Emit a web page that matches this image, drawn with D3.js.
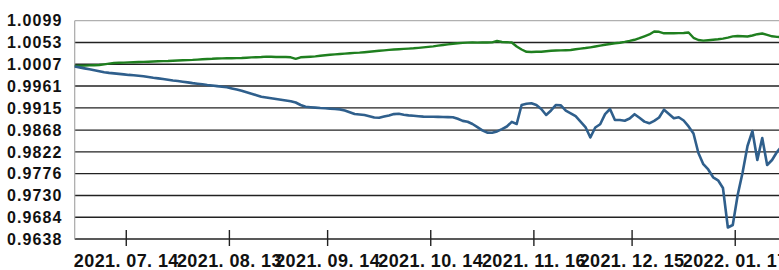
<!DOCTYPE html>
<html>
<head>
<meta charset="utf-8">
<script src="https://cdn.jsdelivr.net/npm/d3@7"></script>
<style>
  html, body { margin: 0; padding: 0; background: #fff; }
  svg { display: block; }
  text { font-family: "Liberation Sans", Arial, sans-serif; font-weight: bold; fill: #111; }
</style>
</head>
<body>
<div id="chart"></div>
<script>
// y tick labels (value axis)
const yTicks = [0.9638, 0.9684, 0.9730, 0.9776, 0.9822, 0.9868, 0.9915, 0.9961, 1.0007, 1.0053, 1.0099];
// x tick labels sit between trading-day points
const xTickLabels = ["2021. 07. 14", "2021. 08. 13", "2021. 09. 14", "2021. 10. 14", "2021. 11. 16", "2021. 12. 15", "2022. 01. 17"];
const xTickIdx = [10.5, 31.5, 51.5, 72.5, 93.5, 113.5, 134.5];

// green series (one value per trading day)
const greenSeries = [
  1.00033,1.00038,1.00042,1.00046,1.00050,1.00054,1.00069,1.00084,1.00097,1.00101,
  1.00105,1.00109,1.00114,1.00118,1.00120,1.00124,1.00128,1.00133,1.00137,1.00139,
  1.00145,1.00150,1.00154,1.00158,1.00162,1.00169,1.00175,1.00181,1.00185,1.00192,
  1.00194,1.00196,1.00198,1.00200,1.00202,1.00209,1.00215,1.00219,1.00223,1.00232,
  1.00228,1.00223,1.00223,1.00223,1.00217,1.00185,1.00217,1.00223,1.00230,1.00236,
  1.00249,1.00261,1.00270,1.00278,1.00287,1.00295,1.00302,1.00310,1.00316,1.00325,
  1.00335,1.00344,1.00354,1.00363,1.00373,1.00382,1.00388,1.00395,1.00401,1.00407,
  1.00416,1.00426,1.00437,1.00449,1.00464,1.00477,1.00490,1.00504,1.00515,1.00521,
  1.00528,1.00531,1.00527,1.00532,1.00529,1.00533,1.00561,1.00540,1.00534,1.00530,
  1.00445,1.00382,1.00333,1.00329,1.00335,1.00335,1.00346,1.00354,1.00361,1.00363,
  1.00367,1.00371,1.00386,1.00401,1.00413,1.00428,1.00445,1.00464,1.00481,1.00498,
  1.00513,1.00525,1.00542,1.00563,1.00587,1.00620,1.00661,1.00699,1.00762,1.00756,
  1.00724,1.00726,1.00726,1.00728,1.00730,1.00741,1.00629,1.00582,1.00570,1.00578,
  1.00587,1.00597,1.00612,1.00633,1.00658,1.00667,1.00663,1.00656,1.00677,1.00705,
  1.00720,1.00692,1.00661,1.00648,1.00642
];

// blue series
const blueSeries = [
  1.00023,1.00004,0.99983,0.99964,0.99943,0.99924,0.99902,0.99888,0.99877,0.99867,
  0.99856,0.99845,0.99837,0.99826,0.99816,0.99801,0.99784,0.99772,0.99757,0.99742,
  0.99727,0.99715,0.99700,0.99687,0.99672,0.99660,0.99647,0.99632,0.99622,0.99609,
  0.99596,0.99584,0.99560,0.99537,0.99510,0.99478,0.99448,0.99417,0.99385,0.99368,
  0.99353,0.99337,0.99322,0.99305,0.99290,0.99263,0.99210,0.99172,0.99163,0.99155,
  0.99146,0.99140,0.99132,0.99125,0.99117,0.99094,0.99056,0.99020,0.99009,0.98999,
  0.98973,0.98946,0.98939,0.98965,0.98990,0.99018,0.99024,0.99003,0.98990,0.98982,
  0.98973,0.98965,0.98963,0.98961,0.98958,0.98956,0.98954,0.98952,0.98918,0.98874,
  0.98857,0.98809,0.98743,0.98675,0.98627,0.98625,0.98652,0.98701,0.98756,0.98853,
  0.98809,0.99210,0.99237,0.99246,0.99212,0.99125,0.98999,0.99094,0.99210,0.99201,
  0.99092,0.99035,0.98973,0.98861,0.98745,0.98523,0.98735,0.98804,0.99018,0.99125,
  0.98893,0.98893,0.98878,0.98925,0.99016,0.98939,0.98859,0.98823,0.98876,0.98946,
  0.99111,0.99022,0.98931,0.98952,0.98882,0.98758,0.98608,0.98196,0.97960,0.97848,
  0.97683,0.97620,0.97457,0.96623,0.96676,0.97309,0.97784,0.98344,0.98661,0.98048,
  0.98513,0.97943,0.98048,0.98217,0.98344
];

const width = 779, height = 270;
const plotLeft = 74.7, plotTop = 20.7, plotBottom = 239;

const svg = d3.select('#chart')
  .append('svg')
  .attr('width', width)
  .attr('height', height);

// plot runs past the right edge of the window, like the reference crop
const x = d3.scaleLinear().domain([0, 144]).range([plotLeft, plotLeft + 144 * 4.911]);
const y = d3.scaleLinear().domain([yTicks[0], yTicks[yTicks.length - 1]]).range([plotBottom, plotTop]);

// horizontal grid lines
svg.append('g')
  .selectAll('line')
  .data(yTicks)
  .enter()
  .append('line')
  .attr('x1', plotLeft)
  .attr('x2', width)
  .attr('y1', d => y(d))
  .attr('y2', d => y(d))
  .attr('stroke', (d, i) => i === yTicks.length - 1 ? '#b0b0b0' : '#222')
  .attr('stroke-width', (d, i) => i === yTicks.length - 1 ? 1.2 : 1.4);

// y labels
svg.append('g')
  .selectAll('text')
  .data(yTicks)
  .enter()
  .append('text')
  .attr('x', 62.5)
  .attr('y', d => y(d))
  .attr('dy', '0.36em')
  .attr('text-anchor', 'end')
  .style('font-size', '16px')
  .style('letter-spacing', '1.1px')
  .text(d => d.toFixed(4));

// left axis line
svg.append('line')
  .attr('x1', plotLeft).attr('x2', plotLeft)
  .attr('y1', plotTop).attr('y2', plotBottom)
  .attr('stroke', '#a8a8a8')
  .attr('stroke-width', 1.2);

// x tick marks
svg.append('g')
  .selectAll('line')
  .data(xTickIdx)
  .enter()
  .append('line')
  .attr('x1', d => x(d)).attr('x2', d => x(d))
  .attr('y1', plotBottom - 9).attr('y2', plotBottom + 7)
  .attr('stroke', '#222')
  .attr('stroke-width', 1.4);

// x labels
svg.append('g')
  .selectAll('text')
  .data(xTickIdx)
  .enter()
  .append('text')
  .attr('x', d => x(d))
  .attr('y', 267)
  .attr('text-anchor', 'middle')
  .style('font-size', '18px')
  .style('letter-spacing', '0.4px')
  .text((d, i) => xTickLabels[i]);

const line = d3.line()
  .x((d, i) => x(i))
  .y(d => y(d));

svg.append('path')
  .datum(greenSeries)
  .attr('d', line)
  .attr('fill', 'none')
  .attr('stroke', '#1f7f1f')
  .attr('stroke-width', 2.4)
  .attr('stroke-linejoin', 'round');

svg.append('path')
  .datum(blueSeries)
  .attr('d', line)
  .attr('fill', 'none')
  .attr('stroke', '#2f5f8c')
  .attr('stroke-width', 2.6)
  .attr('stroke-linejoin', 'round');
</script>
</body>
</html>
